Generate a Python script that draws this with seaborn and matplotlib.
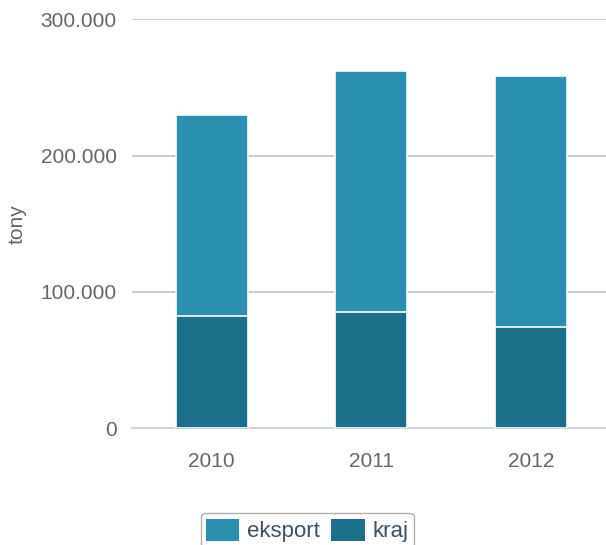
import pandas as pd
import matplotlib.pyplot as plt
import matplotlib.patches as mpatches
from matplotlib.ticker import FuncFormatter
import seaborn as sns

# Data (tonnes)
years = ["2010", "2011", "2012"]
kraj = [82500, 85300, 74300]
eksport = [147100, 177000, 183900]
series_names = ["eksport", "kraj"]
colors = {"eksport": "#2b90b0", "kraj": "#1b6f8a"}

df = pd.DataFrame({"rok": years, "kraj": kraj, "eksport": eksport})
df["razem"] = df["kraj"] + df["eksport"]

sns.set_style("white")
plt.rcParams["font.family"] = ["Liberation Sans", "DejaVu Sans"]

fig = plt.figure(figsize=(6.06, 5.45), dpi=100)
ax = fig.add_axes([132 / 606, 1 - 428 / 545, 1 - 132 / 606, (428 - 19.3) / 545])

# stacked bars: total first (eksport colour), kraj drawn over it
sns.barplot(data=df, x="rok", y="razem", color=colors["eksport"], width=0.45,
            edgecolor="white", linewidth=1.2, saturation=1, ax=ax, zorder=3)
sns.barplot(data=df, x="rok", y="kraj", color=colors["kraj"], width=0.45,
            edgecolor="white", linewidth=1.2, saturation=1, ax=ax, zorder=4)

ax.set_ylim(0, 300000)
ax.set_xlim(-0.5, 2.47)
ax.set_yticks([0, 100000, 200000, 300000])
ax.yaxis.set_major_formatter(FuncFormatter(lambda v, p: f"{int(v):,}".replace(",", ".")))
for v in [100000, 200000, 300000]:
    ax.axhline(v, color="#cccccc", lw=1.5, zorder=1)

for s in ["top", "right", "left"]:
    ax.spines[s].set_visible(False)
ax.spines["bottom"].set_color("#c8d4e2")
ax.spines["bottom"].set_linewidth(1.6)

ax.set_xticks([0.5, 1.5], minor=True)
ax.tick_params(axis="x", which="minor", length=7, width=1.2, color="#c8d4e2", direction="out")
ax.tick_params(axis="x", which="major", length=0, pad=17, labelsize=15, labelcolor="#666666")
ax.tick_params(axis="y", length=0, pad=11, labelsize=15, labelcolor="#666666")

ax.set_xlabel("")
ax.set_ylabel("tony", fontsize=15, color="#666666", labelpad=10)

handles = [mpatches.Patch(facecolor=colors[n], edgecolor="none", label=n) for n in series_names]
leg = fig.legend(handles=handles, loc="upper center", bbox_to_anchor=(0.507, 1 - 513 / 545),
                 borderaxespad=0, ncol=2, frameon=True, fancybox=True, fontsize=16,
                 handlelength=1.5, handleheight=1.2, columnspacing=0.5, handletextpad=0.35,
                 borderpad=0.25)
leg.get_frame().set_edgecolor("#999999")
leg.get_frame().set_linewidth(1.0)
for t in leg.get_texts():
    t.set_color("#3e5063")

fig.savefig("out.png", dpi=100)
plt.close(fig)
